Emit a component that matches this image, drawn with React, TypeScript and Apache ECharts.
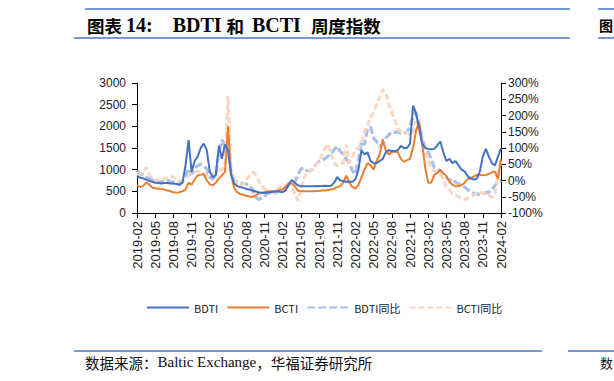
import React, { useEffect, useRef } from "react";
import * as echarts from "echarts";

// half-month sample dates, 2019-02-01 .. 2024-02-01
const START_YEAR = 2019;
const START_MONTH = 2;
const categories: string[] = Array.from({ length: 121 }, (_, i) => {
  const m = START_MONTH - 1 + Math.floor(i / 2);
  const y = START_YEAR + Math.floor(m / 12);
  const mm = (m % 12) + 1;
  return `${y}-${String(mm).padStart(2, "0")}-${i % 2 ? "16" : "01"}`;
});

const legendNames = ["BDTI", "BCTI", "BDTI同比", "BCTI同比"];

const bdti = [
  850, 820, 800, 770, 740, 720, 700, 690, 680, 690, 690, 680, 680, 670, 650, 700,
  1100, 1680, 950, 1200, 1300, 1500, 1600, 1450, 950, 820, 880, 1550, 1250, 1580, 1450, 900,
  680, 620, 600, 580, 560, 540, 520, 500, 480, 470, 460, 470, 480, 490, 500, 490,
  480, 520, 650, 760, 700, 640, 620, 620, 620, 615, 620, 625, 620, 625, 630, 625,
  630, 700, 830, 750, 740, 720, 720, 720, 780, 1000, 1450, 1350, 1400, 1200, 1150, 1150,
  1200, 1250, 1400, 1450, 1430, 1430, 1450, 1550, 1500, 1500, 1600, 2480, 2300, 1950, 1600, 1500,
  1480, 1470, 1480, 1560, 1650, 1400, 1200, 1250, 1150, 1200, 1100, 1000, 960, 850, 800, 770,
  790, 950, 1300, 1480, 1300, 1150, 1100, 1300, 1500,
];

const bcti = [
  640, 600, 620, 700, 660, 590, 570, 560, 560, 540, 520, 500, 480, 470, 480, 500,
  540, 700, 650, 780, 870, 880, 900, 750, 660, 640, 700, 800, 870, 950, 2000, 900,
  580, 480, 440, 420, 400, 380, 370, 400, 450, 460, 480, 500, 500, 500, 510, 530,
  540, 600, 690, 680, 620, 520, 500, 500, 500, 500, 500, 510, 510, 520, 520, 530,
  540, 560, 600, 620, 700, 860, 700, 600, 560, 650, 820, 1000, 1150, 1100, 1000, 1200,
  1350, 1700, 1450, 1350, 1400, 1420, 1400, 1250, 1180, 1220, 1250, 1500, 1900, 2100, 1600, 1050,
  700, 700, 880, 920, 1000, 920, 850, 720, 650, 620, 620, 640, 700, 780, 800, 840,
  880, 880, 870, 880, 900, 940, 960, 780, 1240,
];

const bdtiYoY = [
  30, 20, 18, 10, 7, 3, 0, -3, -3, -3, 0, -3, -5, -8, -8, -5,
  15, 35, 20, 40, 45, 50, 45, 35, 10, 5, 20, 90, 125, 105, 110, 25,
  0, -5, -8, -10, -10, -20, -25, -50, -58, -55, -50, -40, -38, -40, -35, -30,
  -28, -20, -15, -10, -5, 15, 35, 38, 30, 30, 35, 50, 58, 62, 68, 75,
  82, 95, 105, 90, 80, 65, 55, 30, 20, 60, 120, 110, 160, 165, 130, 120,
  105, 110, 130, 140, 150, 148, 150, 145, 145, 150, 165, 200, 210, 170, 130, 100,
  90, 65, 40, 35, 30, 18, 10, 0, 5, -5, -10, -15, -20, -28, -35, -40,
  -42, -42, -40, -38, -35, -30, -15, -5, 0,
];

const bctiYoY = [
  15, 20, 25, 40, 20, 5, 0, 3, 5, 5, 8, 12, 10, 5, 0, 0,
  5, 15, 20, 25, 28, 25, 22, 18, 15, 18, 25, 30, 35, 45, 260, 40,
  0, -13, -15, -13, 0, 15, 25, 20, 0, -18, -25, -30, -35, -38, -30, -22,
  -18, -15, -15, -20, -40, -62, -30, 5, 25, 30, 35, 50, 58, 80, 100, 112,
  80, 55, 45, 50, 55, 110, 55, 70, 95, 100, 115, 150, 170, 195, 210, 235,
  255, 280, 270, 235, 210, 185, 160, 150, 150, 148, 140, 150, 180, 175, 120, 85,
  60, 40, 30, 25, 20, 0, -20, -28, -40, -45, -50, -55, -58, -55, -52, -45,
  -40, -38, -38, -40, -45, -52, -40, 20, 60,
];

const COLORS = {
  bdti: "#4472C4",
  bcti: "#ED7D31",
  bdtiYoY: "#A9C0E8",
  bctiYoY: "#F9D6C1",
  rule: "#4A78C2",
};

const CJK = "'Noto Sans CJK SC', sans-serif";
const SERIF = "'Liberation Serif', 'Times New Roman', serif";

export default function App() {
  const ref = useRef<HTMLDivElement>(null);
  useEffect(() => {
    if (!ref.current) return;
    const chart = echarts.init(ref.current, null, { renderer: "svg" });
    const tickEvery = (i: number) => i % 6 === 0;
    const axisFont = "Liberation Sans, Arial, sans-serif";
    chart.setOption({
      animation: false,
      backgroundColor: "#ffffff",
      grid: { left: 137, right: 113, top: 83, bottom: 168, containLabel: false },
      legend: {
        data: legendNames,
        left: 141,
        top: 297,
        itemWidth: 42,
        itemHeight: 12,
        itemGap: 8,
        itemStyle: { color: "rgba(0,0,0,0)", borderColor: "rgba(0,0,0,0)", borderWidth: 0 },
        textStyle: { fontSize: 11, color: "#222", fontFamily: CJK },
      },
      xAxis: {
        type: "category",
        data: categories,
        boundaryGap: false,
        axisLine: { lineStyle: { color: "#000", width: 1 } },
        axisTick: { interval: tickEvery, length: 5, lineStyle: { color: "#000" } },
        axisLabel: {
          interval: tickEvery,
          rotate: 90,
          margin: 8,
          fontSize: 13,
          color: "#222",
          fontFamily: axisFont,
          formatter: (v: string) => v.slice(0, 7),
        },
        splitLine: { show: false },
      },
      yAxis: [
        {
          type: "value",
          min: 0,
          max: 3000,
          interval: 500,
          position: "left",
          axisLine: { show: true, lineStyle: { color: "#000", width: 1 } },
          axisTick: { show: true, length: 5, lineStyle: { color: "#000" } },
          axisLabel: {
            fontSize: 12,
            margin: 11,
            color: "#222",
            fontFamily: axisFont,
            formatter: (v: number) => String(v),
          },
          splitLine: { show: false },
        },
        {
          type: "value",
          min: -100,
          max: 300,
          interval: 50,
          position: "right",
          axisLine: { show: true, lineStyle: { color: "#000", width: 1 } },
          axisTick: { show: true, length: 5, lineStyle: { color: "#000" } },
          axisLabel: {
            fontSize: 12,
            margin: 7,
            color: "#222",
            fontFamily: axisFont,
            formatter: (v: number) => `${v}%`,
          },
          splitLine: { show: false },
        },
      ],
      series: [
        {
          name: "BDTI同比",
          type: "line",
          yAxisIndex: 1,
          data: bdtiYoY,
          symbol: "none",
          z: 1,
          lineStyle: { color: COLORS.bdtiYoY, width: 3.2, type: [8, 3] },
          itemStyle: { color: COLORS.bdtiYoY },
        },
        {
          name: "BCTI同比",
          type: "line",
          yAxisIndex: 1,
          data: bctiYoY,
          symbol: "none",
          z: 1,
          lineStyle: { color: COLORS.bctiYoY, width: 3, type: [6, 3] },
          itemStyle: { color: COLORS.bctiYoY },
        },
        {
          name: "BCTI",
          type: "line",
          yAxisIndex: 0,
          data: bcti,
          symbol: "none",
          z: 2,
          lineStyle: { color: COLORS.bcti, width: 2 },
          itemStyle: { color: COLORS.bcti },
        },
        {
          name: "BDTI",
          type: "line",
          yAxisIndex: 0,
          data: bdti,
          symbol: "none",
          z: 3,
          lineStyle: { color: COLORS.bdti, width: 2 },
          itemStyle: { color: COLORS.bdti },
        },
      ],
      graphic: [
        { type: "line", shape: { x1: 85, y1: 9, x2: 570, y2: 9 }, style: { stroke: COLORS.rule, lineWidth: 1.5 } },
        { type: "line", shape: { x1: 74, y1: 38, x2: 570, y2: 38 }, style: { stroke: COLORS.rule, lineWidth: 1.5 } },
        { type: "line", shape: { x1: 598, y1: 9, x2: 614, y2: 9 }, style: { stroke: COLORS.rule, lineWidth: 1.5 } },
        { type: "line", shape: { x1: 598, y1: 38, x2: 614, y2: 38 }, style: { stroke: COLORS.rule, lineWidth: 1.5 } },
        {
          type: "text",
          x: 87,
          y: 25,
          style: {
            text: "{a|图表 }{b|14:    BDTI }{a|和  }{b|BCTI  }{a|周度指数}",
            verticalAlign: "middle",
            rich: {
              a: { fontSize: 17.5, fontWeight: "bold", fontFamily: CJK, fill: "#000" },
              b: { fontSize: 20, fontWeight: "bold", fontFamily: SERIF, fill: "#000" },
            },
          },
        },
        {
          type: "text",
          x: 599,
          y: 25,
          style: {
            text: "图",
            fill: "#000",
            font: `bold 14px ${CJK}`,
            verticalAlign: "middle",
          },
        },
        { type: "line", shape: { x1: 74, y1: 351, x2: 542, y2: 351 }, style: { stroke: COLORS.rule, lineWidth: 1.5 } },
        { type: "line", shape: { x1: 568, y1: 351, x2: 614, y2: 351 }, style: { stroke: COLORS.rule, lineWidth: 1.5 } },
        {
          type: "text",
          x: 85,
          y: 362,
          style: {
            text: "{a|数据来源：}{b|Baltic Exchange}{a|，华福证券研究所}",
            verticalAlign: "middle",
            rich: {
              a: { fontSize: 14.5, fontFamily: CJK, fill: "#111" },
              b: { fontSize: 15, fontFamily: SERIF, fill: "#111" },
            },
          },
        },
        {
          type: "text",
          x: 600,
          y: 362,
          style: {
            text: "数",
            fill: "#111",
            font: `13px ${CJK}`,
            verticalAlign: "middle",
          },
        },
      ],
    });
    return () => chart.dispose();
  }, []);
  return (
    <div
      ref={ref}
      style={{ position: "fixed", left: 0, top: 0, width: 614, height: 381, background: "#fff" }}
    />
  );
}
